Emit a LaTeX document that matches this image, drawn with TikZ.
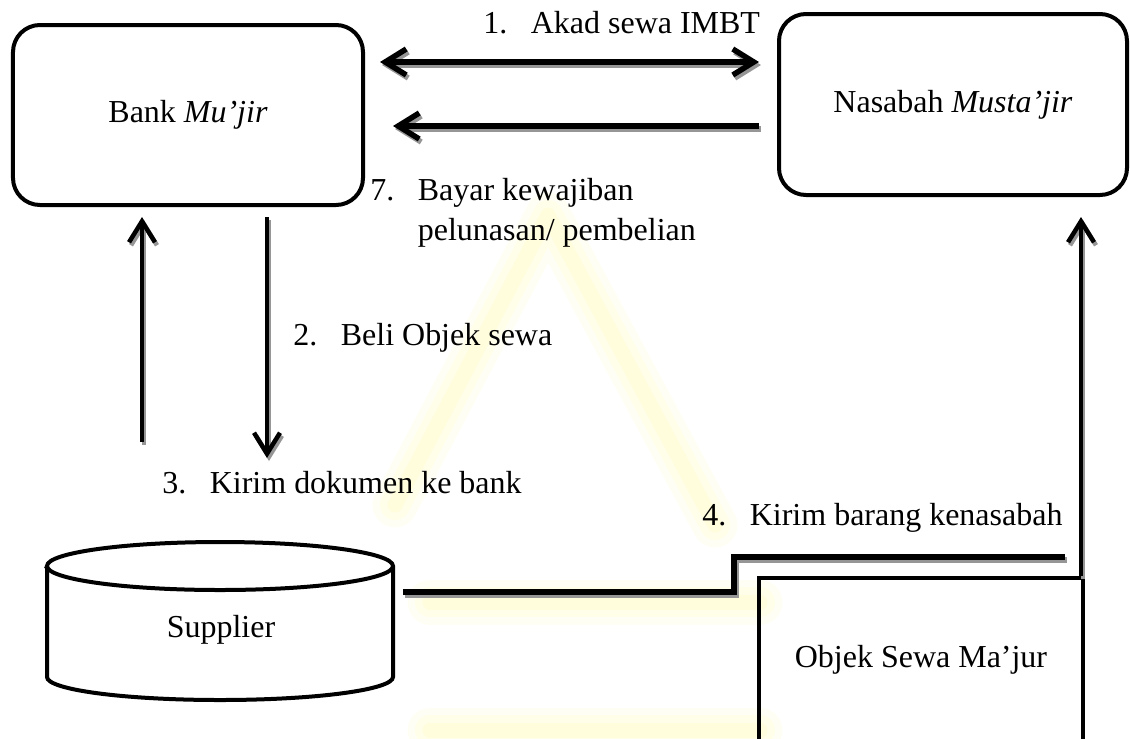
\documentclass[tikz,border=0pt]{standalone}
\usepackage{fontspec}
\setmainfont{Liberation Serif}
\usetikzlibrary{arrows.meta}
\definecolor{wmc}{RGB}{255,248,150}
\definecolor{shd}{RGB}{150,150,150}
\newcommand\numlbl[1]{\makebox[9.5mm][l]{#1}}
\begin{document}
\begin{tikzpicture}[x=0.2mm,y=-0.2mm,
  font=\fontsize{18.2}{22.8}\selectfont,
  rbox/.style={draw, line width=0.8mm, rounded corners=5.4mm, inner sep=0pt},
  sbox/.style={draw, line width=0.9mm, inner sep=0pt},
  arr/.style={line width=#1, line join=round, >={Straight Barb[length=4.2mm,width=5.2mm]}},
  arr/.default=1.1mm,
  conn/.style={line width=1.1mm},
  lbl/.style={anchor=base west, inner sep=0pt},
  wm/.style={draw=wmc, line cap=round, line join=round}]
\useasboundingbox (0,0) rectangle (1130,738);
\clip (0,0) rectangle (1130,738);
% faint watermark
\foreach \w/\o in {9mm/0.10, 6mm/0.12, 3mm/0.15}{
  \draw[wm, line width=\w, opacity=\o] (395,505) -- (548,215) -- (715,525);
  \draw[wm, line width=\w, opacity=\o] (430,602) -- (760,602);
  \draw[wm, line width=\w, opacity=\o] (430,730) -- (760,730);
}
% boxes
\node[rbox, minimum width=70mm, minimum height=36mm] (bank) at (188,115) {Bank \textit{Mu’jir}};
\node[rbox, minimum width=69.6mm, minimum height=36.2mm] (nas) at (953,104.5) {Nasabah \textit{Musta’jir}};
\node[sbox, minimum width=64.8mm, minimum height=32.8mm] (obj) at (921,660) {Objek Sewa Ma’jur};
% supplier cylinder
\draw[line width=0.8mm] (47,566) -- (47,677)
  arc[start angle=180,end angle=360,x radius=34.6mm,y radius=4.6mm]
  -- (393,566)
  arc[start angle=0,end angle=180,x radius=34.6mm,y radius=4.8mm] -- cycle;
\draw[line width=0.8mm] (47,566) arc[start angle=180,end angle=360,x radius=34.6mm,y radius=4.8mm];
\node (sup) at (221,630) {Supplier};
% helper coordinates
\coordinate (y1) at (0,62);
\coordinate (y2) at (0,126);
\coordinate (c3) at (142,442);
\coordinate (c2) at (267,458);
\coordinate (c5) at (1081,576);
\coordinate (c4a) at (403,592);
\coordinate (c4b) at (1065,557);
% connectors (drawn twice: grey shadow, then black)
\newcommand\connectors[1]{%
  \draw[arr, draw=#1, <->, shorten <=3mm, shorten >=3.6mm] (bank.east |- y1) -- (nas.west |- y1);
  \draw[arr, draw=#1, ->, shorten <=3.6mm, shorten >=5.6mm] (nas.west |- y2) -- (bank.east |- y2);
  \draw[arr=0.9mm, draw=#1, ->, shorten >=2mm] (c3) -- (c3 |- bank.south);
  \draw[arr=0.9mm, draw=#1, ->, shorten <=2mm] (c2 |- bank.south) -- (c2);
  \draw[arr=0.9mm, draw=#1, ->, shorten >=4mm] (c5) -- (c5 |- nas.south);
  \draw[conn, draw=#1] (c4a) -- ++(331,0) |- (c4b);
}
\begin{scope}[transform canvas={shift={(0.4mm,-0.6mm)}}]
  \connectors{shd}
\end{scope}
\connectors{black}
% labels
\node[lbl] (l1) at (483,33) {\numlbl{1.}Akad sewa IMBT};
\node[lbl] (l7a) at (370,200) {\numlbl{7.}Bayar kewajiban};
\node[lbl] (l7b) at (417.5,240) {pelunasan/ pembelian};
\node[lbl] (l2) at (293,345) {\numlbl{2.}Beli Objek sewa};
\node[lbl] (l3) at (162,493) {\numlbl{3.}Kirim dokumen ke bank};
\node[lbl] (l4) at (702,525) {\numlbl{4.}Kirim barang kenasabah};
\end{tikzpicture}
\end{document}
